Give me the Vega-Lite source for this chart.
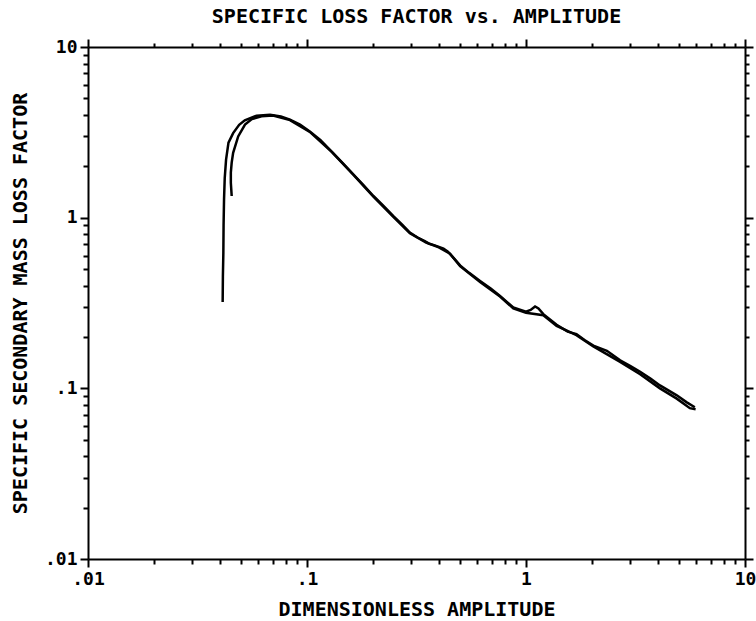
{
  "$schema": "https://vega.github.io/schema/vega-lite/v6.json",
  "autosize": "none",
  "width": 657,
  "height": 512,
  "padding": {"left": 88, "top": 47, "right": 11, "bottom": 62},
  "background": "white",
  "title": {
    "text": "SPECIFIC LOSS FACTOR vs. AMPLITUDE",
    "font": "DejaVu Sans Mono",
    "fontSize": 20,
    "fontWeight": "bold",
    "color": "black",
    "anchor": "middle",
    "offset": 11
  },
  "config": {
    "view": {"stroke": null},
    "axis": {
      "grid": false,
      "domainColor": "black",
      "domainWidth": 2,
      "tickColor": "black",
      "tickWidth": 2,
      "labelFont": "DejaVu Sans Mono",
      "labelFontWeight": "bold",
      "labelFontSize": 18,
      "labelColor": "black",
      "titleFont": "DejaVu Sans Mono",
      "titleFontWeight": "bold",
      "titleFontSize": 20,
      "titleColor": "black",
      "labelOverlap": false,
      "labelBound": false,
      "labelFlush": false
    }
  },
  "data": {
    "values": [
      {"s": "a", "i": 1, "x": 0.0412, "y": 0.321},
      {"s": "a", "i": 2, "x": 0.0413, "y": 0.45},
      {"s": "a", "i": 3, "x": 0.0415, "y": 0.62},
      {"s": "a", "i": 4, "x": 0.0416, "y": 0.9},
      {"s": "a", "i": 5, "x": 0.0418, "y": 1.28},
      {"s": "a", "i": 6, "x": 0.0421, "y": 1.7},
      {"s": "a", "i": 7, "x": 0.0427, "y": 2.19},
      {"s": "a", "i": 8, "x": 0.0438, "y": 2.75},
      {"s": "a", "i": 9, "x": 0.046, "y": 3.13},
      {"s": "a", "i": 10, "x": 0.049, "y": 3.5},
      {"s": "a", "i": 11, "x": 0.052, "y": 3.72},
      {"s": "a", "i": 12, "x": 0.0589, "y": 3.96},
      {"s": "a", "i": 13, "x": 0.0678, "y": 4.01},
      {"s": "a", "i": 14, "x": 0.076, "y": 3.92},
      {"s": "a", "i": 15, "x": 0.0836, "y": 3.75},
      {"s": "a", "i": 16, "x": 0.0929, "y": 3.51},
      {"s": "a", "i": 17, "x": 0.103, "y": 3.2},
      {"s": "a", "i": 18, "x": 0.115, "y": 2.85},
      {"s": "a", "i": 19, "x": 0.13, "y": 2.43},
      {"s": "a", "i": 20, "x": 0.146, "y": 2.08},
      {"s": "a", "i": 21, "x": 0.163, "y": 1.79},
      {"s": "a", "i": 22, "x": 0.181, "y": 1.55},
      {"s": "a", "i": 23, "x": 0.201, "y": 1.34},
      {"s": "a", "i": 24, "x": 0.224, "y": 1.17},
      {"s": "a", "i": 25, "x": 0.248, "y": 1.02},
      {"s": "a", "i": 26, "x": 0.272, "y": 0.91},
      {"s": "a", "i": 27, "x": 0.295, "y": 0.817},
      {"s": "a", "i": 28, "x": 0.32, "y": 0.765},
      {"s": "a", "i": 29, "x": 0.345, "y": 0.73},
      {"s": "a", "i": 30, "x": 0.36, "y": 0.705},
      {"s": "a", "i": 31, "x": 0.38, "y": 0.69},
      {"s": "a", "i": 32, "x": 0.4, "y": 0.675},
      {"s": "a", "i": 33, "x": 0.42, "y": 0.658},
      {"s": "a", "i": 34, "x": 0.44, "y": 0.632},
      {"s": "a", "i": 35, "x": 0.47, "y": 0.575},
      {"s": "a", "i": 36, "x": 0.5, "y": 0.525},
      {"s": "a", "i": 37, "x": 0.55, "y": 0.475},
      {"s": "a", "i": 38, "x": 0.617, "y": 0.426},
      {"s": "a", "i": 39, "x": 0.69, "y": 0.385},
      {"s": "a", "i": 40, "x": 0.761, "y": 0.348},
      {"s": "a", "i": 41, "x": 0.82, "y": 0.32},
      {"s": "a", "i": 42, "x": 0.875, "y": 0.298},
      {"s": "a", "i": 43, "x": 0.93, "y": 0.29},
      {"s": "a", "i": 44, "x": 1.0, "y": 0.281},
      {"s": "a", "i": 45, "x": 1.05, "y": 0.288},
      {"s": "a", "i": 46, "x": 1.1, "y": 0.302},
      {"s": "a", "i": 47, "x": 1.14, "y": 0.294},
      {"s": "a", "i": 48, "x": 1.2, "y": 0.272},
      {"s": "a", "i": 49, "x": 1.38, "y": 0.236},
      {"s": "a", "i": 50, "x": 1.55, "y": 0.215},
      {"s": "a", "i": 51, "x": 1.7, "y": 0.208},
      {"s": "a", "i": 52, "x": 1.85, "y": 0.192},
      {"s": "a", "i": 53, "x": 2.03, "y": 0.178},
      {"s": "a", "i": 54, "x": 2.34, "y": 0.166},
      {"s": "a", "i": 55, "x": 2.69, "y": 0.146},
      {"s": "a", "i": 56, "x": 3.0, "y": 0.135},
      {"s": "a", "i": 57, "x": 3.32, "y": 0.125},
      {"s": "a", "i": 58, "x": 3.7, "y": 0.114},
      {"s": "a", "i": 59, "x": 4.09, "y": 0.104},
      {"s": "a", "i": 60, "x": 4.88, "y": 0.091},
      {"s": "a", "i": 61, "x": 5.4, "y": 0.083},
      {"s": "a", "i": 62, "x": 5.9, "y": 0.0775},
      {"s": "b", "i": 1, "x": 0.0453, "y": 1.34},
      {"s": "b", "i": 2, "x": 0.0449, "y": 1.6},
      {"s": "b", "i": 3, "x": 0.0449, "y": 1.84},
      {"s": "b", "i": 4, "x": 0.0453, "y": 2.1},
      {"s": "b", "i": 5, "x": 0.046, "y": 2.4},
      {"s": "b", "i": 6, "x": 0.0485, "y": 2.99},
      {"s": "b", "i": 7, "x": 0.0521, "y": 3.51},
      {"s": "b", "i": 8, "x": 0.056, "y": 3.78},
      {"s": "b", "i": 9, "x": 0.062, "y": 3.93},
      {"s": "b", "i": 10, "x": 0.07, "y": 3.97},
      {"s": "b", "i": 11, "x": 0.0836, "y": 3.73},
      {"s": "b", "i": 12, "x": 0.103, "y": 3.18},
      {"s": "b", "i": 13, "x": 0.13, "y": 2.42},
      {"s": "b", "i": 14, "x": 0.163, "y": 1.78},
      {"s": "b", "i": 15, "x": 0.201, "y": 1.33},
      {"s": "b", "i": 16, "x": 0.248, "y": 1.01},
      {"s": "b", "i": 17, "x": 0.295, "y": 0.81},
      {"s": "b", "i": 18, "x": 0.35, "y": 0.715},
      {"s": "b", "i": 19, "x": 0.4, "y": 0.67},
      {"s": "b", "i": 20, "x": 0.45, "y": 0.615},
      {"s": "b", "i": 21, "x": 0.5, "y": 0.52},
      {"s": "b", "i": 22, "x": 0.617, "y": 0.42},
      {"s": "b", "i": 23, "x": 0.761, "y": 0.345},
      {"s": "b", "i": 24, "x": 0.875, "y": 0.294},
      {"s": "b", "i": 25, "x": 1.0, "y": 0.277},
      {"s": "b", "i": 26, "x": 1.2, "y": 0.268},
      {"s": "b", "i": 27, "x": 1.38, "y": 0.232},
      {"s": "b", "i": 28, "x": 1.7, "y": 0.205},
      {"s": "b", "i": 29, "x": 2.03, "y": 0.176},
      {"s": "b", "i": 30, "x": 2.69, "y": 0.143},
      {"s": "b", "i": 31, "x": 3.32, "y": 0.121},
      {"s": "b", "i": 32, "x": 4.09, "y": 0.1},
      {"s": "b", "i": 33, "x": 4.88, "y": 0.087},
      {"s": "b", "i": 34, "x": 5.6, "y": 0.0765},
      {"s": "b", "i": 35, "x": 5.95, "y": 0.0755}
    ]
  },
  "layer": [
    {
      "mark": {"type": "line", "color": "black", "strokeWidth": 2.5, "clip": true},
      "encoding": {
        "x": {
          "field": "x", "type": "quantitative",
          "scale": {"type": "log", "domain": [0.01, 10], "nice": false},
          "axis": {
            "orient": "bottom",
            "title": "DIMENSIONLESS AMPLITUDE",
            "values": [0.01,0.02,0.03,0.04,0.05,0.06,0.07,0.08,0.09,0.1,0.2,0.3,0.4,0.5,0.6,0.7,0.8,0.9,1,2,3,4,5,6,7,8,9,10],
            "labelExpr": "datum.value == 0.01 ? '.01' : datum.value == 0.1 ? '.1' : datum.value == 1 ? '1' : datum.value == 10 ? '10' : ''",
            "tickSize": {"condition": {"test": "datum.value == 0.01 || datum.value == 0.1 || datum.value == 1 || datum.value == 10", "value": 8}, "value": 5},
            "labelPadding": 3,
            "titlePadding": 11
          }
        },
        "y": {
          "field": "y", "type": "quantitative",
          "scale": {"type": "log", "domain": [0.01, 10], "nice": false},
          "axis": {
            "orient": "left",
            "title": "SPECIFIC SECONDARY MASS LOSS FACTOR",
            "values": [0.01,0.02,0.03,0.04,0.05,0.06,0.07,0.08,0.09,0.1,0.2,0.3,0.4,0.5,0.6,0.7,0.8,0.9,1,2,3,4,5,6,7,8,9,10],
            "labelExpr": "datum.value == 0.01 ? '.01' : datum.value == 0.1 ? '.1' : datum.value == 1 ? '1' : datum.value == 10 ? '10' : ''",
            "tickSize": {"condition": {"test": "datum.value == 0.01 || datum.value == 0.1 || datum.value == 1 || datum.value == 10", "value": 8}, "value": 5},
            "labelPadding": 3,
            "titlePadding": 14
          }
        },
        "detail": {"field": "s"},
        "order": {"field": "i", "type": "quantitative"}
      }
    },
    {
      "mark": {"type": "line", "opacity": 0},
      "encoding": {
        "x": {
          "field": "x", "type": "quantitative",
          "axis": {
            "orient": "top", "title": null, "labels": false,
            "values": [0.01,0.02,0.03,0.04,0.05,0.06,0.07,0.08,0.09,0.1,0.2,0.3,0.4,0.5,0.6,0.7,0.8,0.9,1,2,3,4,5,6,7,8,9,10],
            "tickSize": {"condition": {"test": "datum.value == 0.01 || datum.value == 0.1 || datum.value == 1 || datum.value == 10", "value": 8}, "value": 4}
          }
        },
        "y": {
          "field": "y", "type": "quantitative",
          "axis": {
            "orient": "right", "title": null, "labels": false,
            "values": [0.01,0.02,0.03,0.04,0.05,0.06,0.07,0.08,0.09,0.1,0.2,0.3,0.4,0.5,0.6,0.7,0.8,0.9,1,2,3,4,5,6,7,8,9,10],
            "tickSize": {"condition": {"test": "datum.value == 0.01 || datum.value == 0.1 || datum.value == 1 || datum.value == 10", "value": 8}, "value": 4}
          }
        },
        "detail": {"field": "s"},
        "order": {"field": "i", "type": "quantitative"}
      }
    }
  ],
  "resolve": {"axis": {"x": "independent", "y": "independent"}}
}
